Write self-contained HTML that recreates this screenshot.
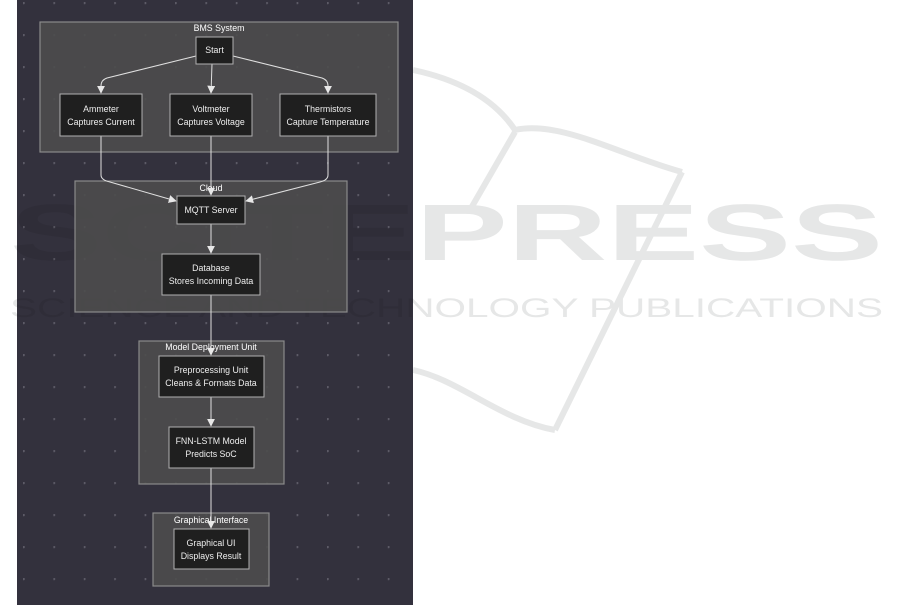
<!DOCTYPE html>
<html><head><meta charset="utf-8"><style>
html,body{margin:0;padding:0;background:#fff;}
svg{display:block}
text{font-family:"Liberation Sans",Arial,sans-serif;}
</style></head><body>
<svg width="901" height="606" viewBox="0 0 901 606" xmlns="http://www.w3.org/2000/svg">
<defs>
<pattern id="dots" x="23" y="2" width="30.4" height="32" patternUnits="userSpaceOnUse">
<circle cx="0.5" cy="1" r="1.3" fill="#5d5b67"/>
</pattern>
<marker id="ar" viewBox="0 0 10 10" refX="9" refY="5" markerWidth="8" markerHeight="8" orient="auto-start-reverse" markerUnits="userSpaceOnUse">
<path d="M0,0 L10,5 L0,10 z" fill="#e8e8e8"/>
</marker>
<clipPath id="pc"><rect x="17" y="0" width="396" height="605"/></clipPath>
</defs>
<rect width="901" height="606" fill="#fff"/>
<g fill="none" stroke="#e6e7e7" stroke-width="6">
<path d="M413,70 C460,80 495,100 515,130 C560,120 620,155 682,172"/>
<path d="M682,172 L555,430"/>
<path d="M515,132 L470,210"/>
<path d="M413,370 C460,380 500,420 555,430"/>
</g>
<text x="10" y="260" font-size="80" font-weight="bold" fill="#e6e7e7" textLength="873" lengthAdjust="spacingAndGlyphs">SCITEPRESS</text>
<text x="10" y="317" font-size="27" fill="#e6e7e7" textLength="873" lengthAdjust="spacingAndGlyphs">SCIENCE AND TECHNOLOGY PUBLICATIONS</text>
<rect x="17" y="0" width="396" height="605" fill="#33313d"/>
<rect x="17" y="0" width="396" height="605" fill="url(#dots)"/>
<g clip-path="url(#pc)" fill="#000" opacity="0.07">
<text x="10" y="260" font-size="80" font-weight="bold" textLength="873" lengthAdjust="spacingAndGlyphs">SCITEPRESS</text>
<text x="10" y="317" font-size="27" textLength="873" lengthAdjust="spacingAndGlyphs">SCIENCE AND TECHNOLOGY PUBLICATIONS</text>
</g>
<g fill="#4c4c4c" fill-opacity="0.9" stroke="#8a8a8a" stroke-width="1.2">
<rect x="40" y="22" width="358" height="130"/>
<rect x="75" y="181" width="272" height="131"/>
<rect x="139" y="341" width="145" height="143"/>
<rect x="153" y="513" width="116" height="73"/>
</g>
<g font-size="8.8" fill="#fff" text-anchor="middle">
<text x="219" y="31">BMS System</text>
<text x="211" y="191">Cloud</text>
<text x="211" y="350">Model Deployment Unit</text>
<text x="211" y="523">Graphical Interface</text>
</g>
<g fill="none" stroke="#e0e0e0" stroke-width="1" marker-end="url(#ar)">
<path d="M196,56 L107,78 Q101,80 101,86 L101,93"/>
<path d="M212,64 L211,93"/>
<path d="M233,56 L322,78 Q328,80 328,86 L328,93"/>
<path d="M101,136 L101,175 Q101,180 110,182 L176,201"/>
<path d="M211,136 L211,195"/>
<path d="M328,136 L328,175 Q328,180 320,182 L246,201"/>
<path d="M211,224 L211,253"/>
<path d="M211,295 L211,355"/>
<path d="M211,397 L211,426"/>
<path d="M211,468 L211,528"/>
</g>
<g fill="#1f1f1f" stroke="#b0b0b0" stroke-width="1">
<rect x="196" y="37" width="37" height="27"/>
<rect x="60" y="94" width="82" height="42"/>
<rect x="170" y="94" width="82" height="42"/>
<rect x="280" y="94" width="96" height="42"/>
<rect x="177" y="196" width="68" height="28"/>
<rect x="162" y="254" width="98" height="41"/>
<rect x="159" y="356" width="105" height="41"/>
<rect x="169" y="427" width="85" height="41"/>
<rect x="174" y="529" width="75" height="40"/>
</g>
<g font-size="8.8" fill="#eee" text-anchor="middle">
<text x="214.5" y="53">Start</text>
<text x="101" y="112">Ammeter</text><text x="101" y="125">Captures Current</text>
<text x="211" y="112">Voltmeter</text><text x="211" y="125">Captures Voltage</text>
<text x="328" y="112">Thermistors</text><text x="328" y="125">Capture Temperature</text>
<text x="211" y="213">MQTT Server</text>
<text x="211" y="271">Database</text><text x="211" y="284">Stores Incoming Data</text>
<text x="211" y="373">Preprocessing Unit</text><text x="211" y="386">Cleans &amp; Formats Data</text>
<text x="211" y="444">FNN-LSTM Model</text><text x="211" y="457">Predicts SoC</text>
<text x="211" y="546">Graphical UI</text><text x="211" y="559">Displays Result</text>
</g>
</svg>
</body></html>
